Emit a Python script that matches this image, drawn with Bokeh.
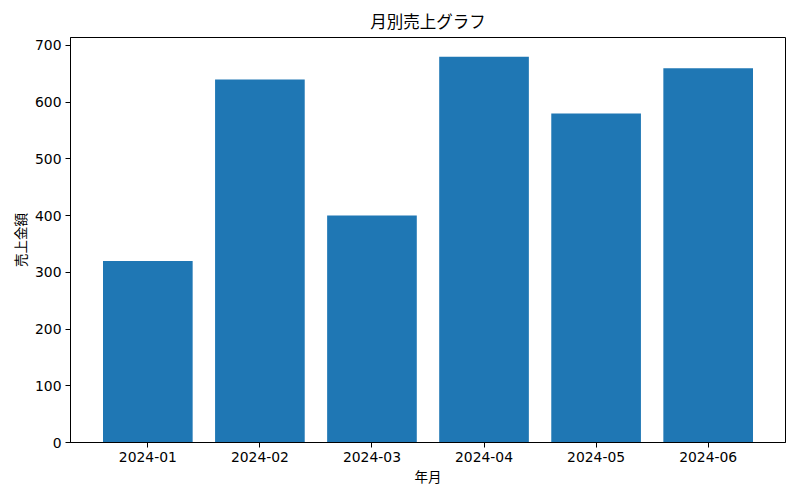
from bokeh.plotting import figure
from bokeh.models import ColumnDataSource, FixedTicker, Range1d
from bokeh.embed import file_html
from bokeh.resources import INLINE

months = ["2024-01", "2024-02", "2024-03", "2024-04", "2024-05", "2024-06"]
sales = [320, 640, 400, 680, 580, 660]
y_ticks = [0, 100, 200, 300, 400, 500, 600, 700]

xs = list(range(len(months)))
src = ColumnDataSource(dict(x=xs, top=sales))

JP = "Noto Sans CJK JP"
NUM = "DejaVu Sans"

p = figure(width=792, height=492, output_backend="svg", toolbar_location=None,
           x_range=Range1d(-0.69, len(months) - 1 + 0.69),
           y_range=Range1d(0, max(sales) * 1.05),
           title="月別売上グラフ",
           min_border_left=70, min_border_right=7, min_border_bottom=50, min_border_top=37)

p.vbar(x="x", top="top", width=0.8, source=src, color="#1f77b4", line_color=None)

p.title.align = "center"
p.title.text_font = JP
p.title.text_font_size = "16.5px"
p.title.text_font_style = "normal"
p.title.text_color = "#000000"

p.xgrid.visible = False
p.ygrid.visible = False
p.outline_line_color = "black"
p.outline_line_width = 1
p.outline_line_alpha = 1

p.xaxis.ticker = FixedTicker(ticks=xs)
p.xaxis.major_label_overrides = {i: m for i, m in enumerate(months)}
p.yaxis.ticker = FixedTicker(ticks=y_ticks)

for ax in (p.xaxis[0], p.yaxis[0]):
    ax.major_label_text_font = NUM
    ax.major_label_text_font_size = "13.9px"
    ax.major_label_text_color = "#000000"
    ax.axis_label_text_font = JP
    ax.axis_label_text_font_size = "13.5px"
    ax.axis_label_text_font_style = "normal"
    ax.axis_label_text_color = "#000000"
    ax.axis_line_color = "black"
    ax.major_tick_line_color = "black"
    ax.major_tick_out = 5
    ax.major_tick_in = 0
    ax.minor_tick_line_color = None
    ax.major_label_standoff = 4

p.xaxis.axis_label_standoff = 1
p.yaxis.axis_label_standoff = 2

p.xaxis.axis_label = "年月"
p.yaxis.axis_label = "売上金額"

open("out.html", "w").write(file_html(p, INLINE))
